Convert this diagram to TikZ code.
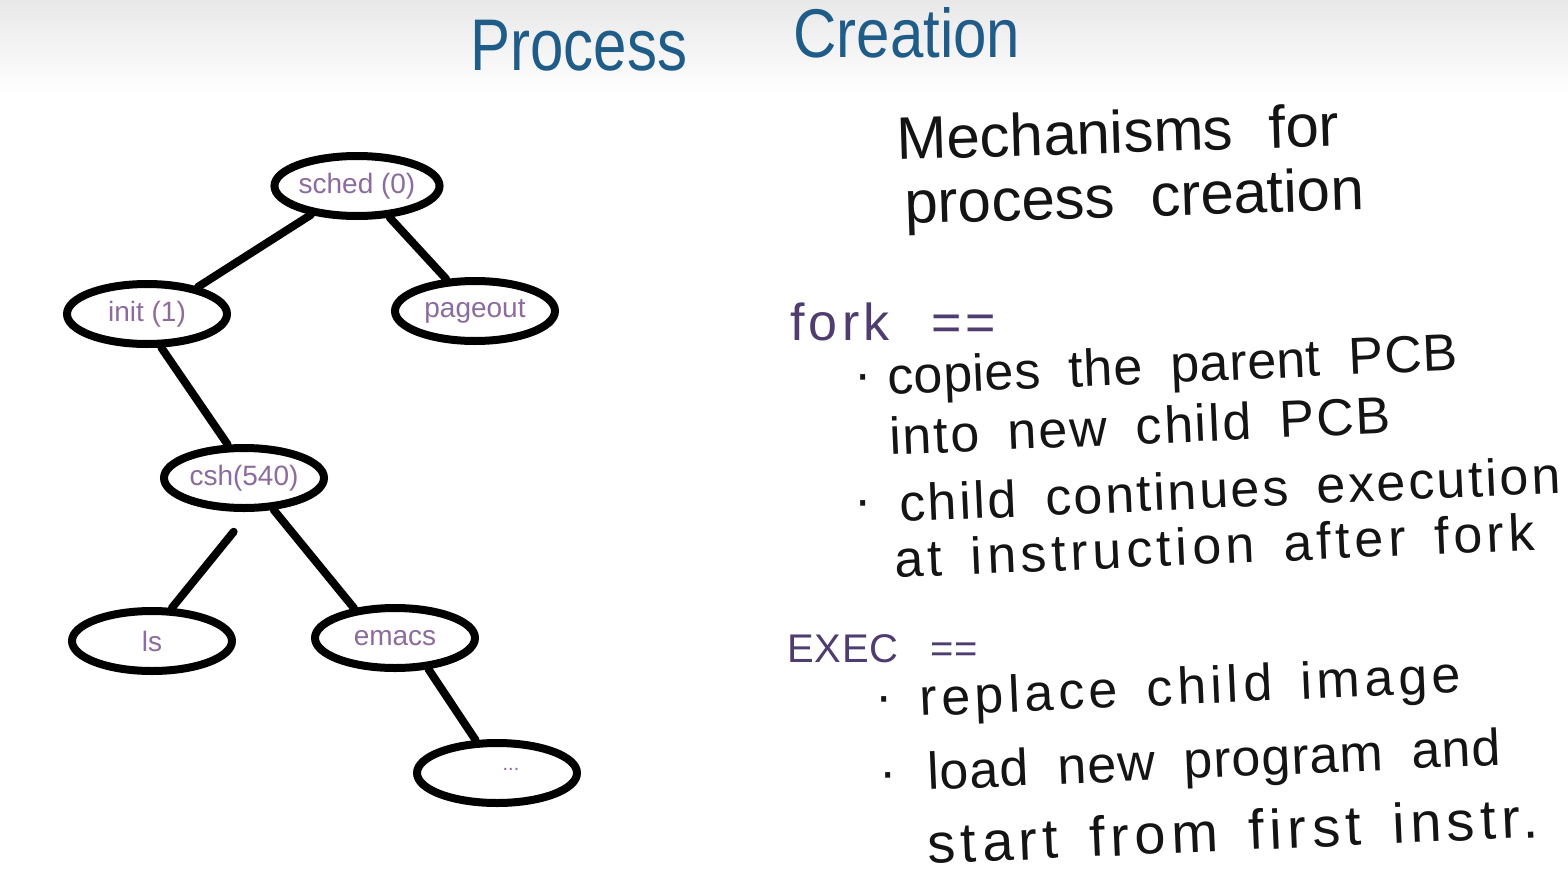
\documentclass[tikz,border=0pt]{standalone}
\usepackage{fontspec}
\setmainfont{Liberation Sans}
\usetikzlibrary{shapes.geometric}
\definecolor{titleblue}{HTML}{1F5C88}
\definecolor{lblpurple}{HTML}{8C6C9C}
\definecolor{kwpurple}{HTML}{4F3D70}
\definecolor{ink}{HTML}{141414}
\newcommand\mywsA{\spaceskip=0.55em plus 0.1em\relax}
\newcommand\mywsB{\spaceskip=0.6em plus 0.1em\relax}
\newcommand\mywsC{\spaceskip=0.8em plus 0.1em\relax}
\newcommand\myls[1]{\addfontfeature{LetterSpace=#1}}
\begin{document}
\begin{tikzpicture}[x=0.5pt,y=-0.5pt,
  proc/.style={ellipse, draw=black, line width=4pt, minimum width=80pt, minimum height=30pt,
    inner sep=0pt, text=lblpurple, font=\fontsize{14}{14}\selectfont},
  edge/.style={line width=4pt, line cap=round},
  txt/.style={anchor=base west, inner sep=0pt, text=ink,
    font=\fontsize{26}{26}\selectfont\mywsA, rotate=2.5},
  big/.style={anchor=base west, inner sep=0pt, text=ink,
    font=\fontsize{30}{30}\selectfont\mywsB, rotate=1.8},
  kw/.style={anchor=base west, inner sep=0pt, text=kwpurple,
    font=\fontsize{26}{26}\selectfont\mywsC},
  bul/.style={anchor=center, inner sep=0pt, text=ink, font=\fontsize{26}{26}\selectfont},
  ttl/.style={anchor=base west, inner sep=0pt, text=titleblue, font=\fontsize{30}{30}\selectfont}]
\useasboundingbox (0,0) rectangle (1568,894);
\fill[white] (0,0) rectangle (1568,894);
\shade[top color=black!9, bottom color=white] (0,0) rectangle (1568,95);

% title
\node[ttl] (t1) at (470,70) {\scalebox{1}[1.22]{Process}};
\node[ttl] (t2) at (793,57) {\scalebox{1}[1.15]{Creation}};

% tree
\node[proc] (sched) at (357,186) {sched (0)};
\node[proc] (init) at (147,314) {init (1)};
\node[proc] (pageout) at (475,311) {pageout};
\node[proc] (csh) at (244,478) {csh(540)};
\node[proc] (ls) at (152,641) {ls};
\node[proc] (emacs) at (395,638) {emacs};
\node[proc] (dots) at (497,773) {\raisebox{4pt}{\hspace{14pt}\fontsize{10}{10}\selectfont...}};

\draw[edge] (sched.212) -- (init.28);
\draw[edge] (sched.-44) -- (pageout.132);
\draw[edge] (init.-67) -- (csh.116);
\draw[edge] ([yshift=-10pt]csh.-107) -- (ls.59);
\draw[edge] (csh.-47) -- (emacs.144);
\draw[edge] (emacs.-43) -- (dots.123);

% right text
\node[big] (m1) at (897,160) {Mechanisms for};
\node[big] (m2) at (905,224) {process creation};

\node[kw, font=\fontsize{26}{26}\selectfont\mywsC\myls{8}] (fork) at (790,340) {fork ==};
\node[bul] (b1) at (863,383) {·};
\node[txt, font=\fontsize{26}{26}\selectfont\mywsA\myls{1}] (f1) at (888,395) {copies the parent PCB};
\node[txt, font=\fontsize{26}{26}\selectfont\mywsA\myls{4}] (f2) at (890,455) {into new child PCB};
\node[bul] (b2) at (863,509) {·};
\node[txt, font=\fontsize{26}{26}\selectfont\mywsA\myls{5}] (f3) at (900,522) {child continues execution};
\node[txt, font=\fontsize{26}{26}\selectfont\mywsA\myls{9}] (f4) at (895,578) {at instruction after fork};

\node[kw, font=\fontsize{20}{20}\selectfont\mywsC\myls{2}] (exec) at (787,662) {EXEC ==};
\node[bul] (b3) at (884,705) {·};
\node[txt, font=\fontsize{26}{26}\selectfont\mywsA\myls{9}] (e1) at (920,716) {replace child image};
\node[bul] (b4) at (888,781) {·};
\node[txt, font=\fontsize{26}{26}\selectfont\mywsA\myls{2}] (e2) at (928,790) {load new program and};
\node[txt, font=\fontsize{28}{28}\selectfont\mywsA\myls{10}] (e3) at (928,864) {start from first instr.};
\end{tikzpicture}
\end{document}
